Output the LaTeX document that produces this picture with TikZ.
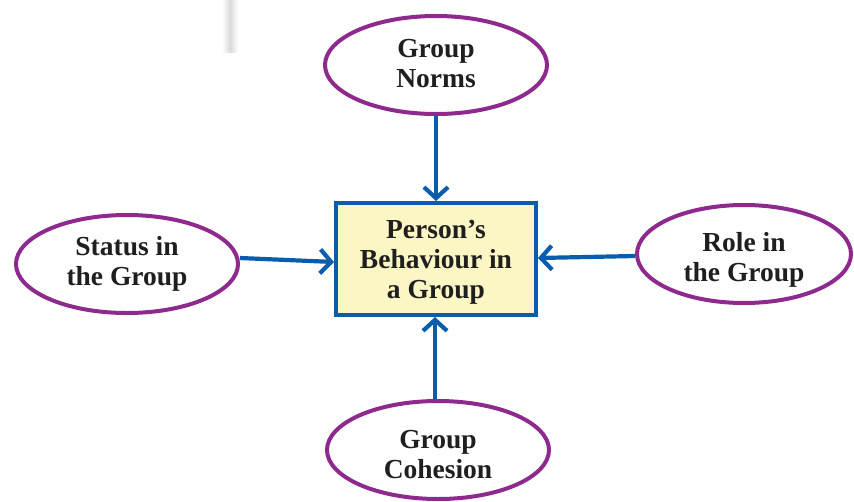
\documentclass[tikz,border=0pt]{standalone}
\usepackage{fontspec}
\setmainfont{Liberation Serif}
\usetikzlibrary{shapes.geometric,arrows.meta,calc}
\definecolor{ellpurple}{RGB}{142,42,142}
\definecolor{arrblue}{RGB}{10,92,172}
\definecolor{boxyellow}{RGB}{252,246,196}
\newcommand{\lowtext}[2]{\raisebox{-#1}[\height][\depth]{\begin{tabular}{@{}c@{}}#2\end{tabular}}}
\tikzset{
  x=1pt,y=1pt,
  oval/.style={ellipse, draw=ellpurple, line width=4pt, fill=white,
    minimum width=222pt, minimum height=98pt, inner sep=0pt,
    font=\fontsize{27.5}{30}\selectfont\bfseries, text=black!88},
  mainbox/.style={rectangle, draw=arrblue, line width=4pt, fill=boxyellow,
    minimum width=200pt, minimum height=112pt, inner sep=0pt,
    font=\fontsize{27.5}{30}\selectfont\bfseries, text=black!88},
  link/.style={draw=arrblue, line width=4.2pt,
    -{Straight Barb[length=11pt,width=24pt,line width=4.2pt]}}
}
\begin{document}
\begin{tikzpicture}
\useasboundingbox (0,0) rectangle (854,-501);
\shade[left color=white, right color=white, middle color=black!15] (222,0) rectangle (238,-52);
\node[mainbox] (box) at (436,-259) {\lowtext{3.5pt}{Person’s\\Behaviour in\\a Group}};
\node[oval] (norms) at (436,-65) {\lowtext{1.5pt}{Group\\Norms}};
\node[oval] (status) at (127,-264) {\lowtext{0.5pt}{Status in\\the Group}};
\node[oval, minimum width=214pt] (role) at (744,-254) {\lowtext{6pt}{Role in\\the Group}};
\node[oval] (cohesion) at (438,-450) {\lowtext{7pt}{Group\\Cohesion}};
\draw[link] (norms.south) -- (box.north);
\draw[link] ($(status.east)+(0,6)$) -- ($(box.west)+(0,-3)$);
\draw[link] ($(role.west)+(0,-2)$) -- ($(box.east)+(0,1)$);
\draw[link] ($(cohesion.north)+(-3,0)$) -- ($(box.south)+(-1,0)$);
\end{tikzpicture}
\end{document}
